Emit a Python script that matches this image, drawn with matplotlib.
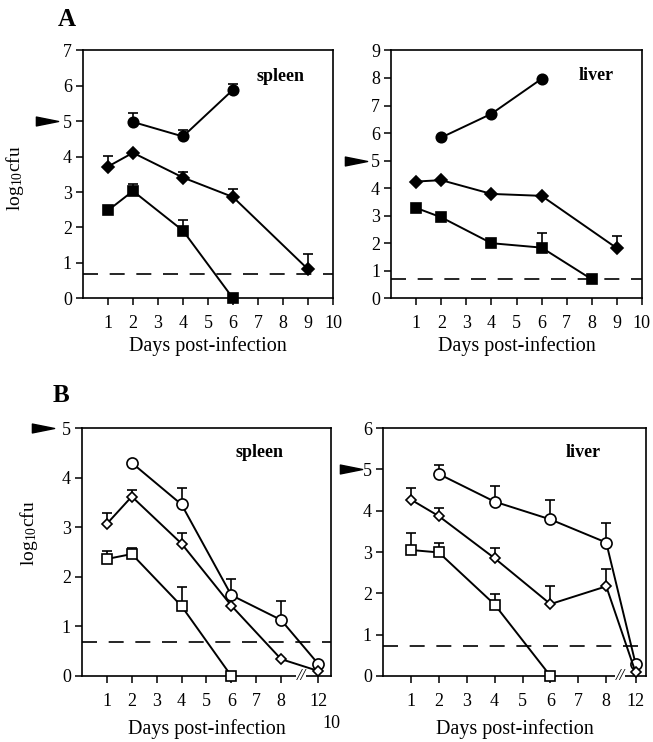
import numpy as np
import matplotlib
matplotlib.use("Agg")
import matplotlib.pyplot as plt
from matplotlib.path import Path
from matplotlib.transforms import blended_transform_factory

plt.rcParams['font.family'] = ['Liberation Serif', 'DejaVu Serif']
plt.rcParams['mathtext.fontset'] = 'custom'
plt.rcParams['mathtext.rm'] = 'Liberation Serif'
plt.rcParams['mathtext.it'] = 'Liberation Serif:italic'

# ---- data (log10 cfu, mean and upper error) ----
# A, spleen
a_spl_circ_days = [2, 4, 6]
a_spl_circ = [4.98, 4.57, 5.89]
a_spl_circ_err = [0.25, 0.17, 0.17]
a_spl_diam_days = [1, 2, 4, 6, 9]
a_spl_diam = [3.72, 4.11, 3.41, 2.86, 0.82]
a_spl_diam_err = [0.29, 0, 0.15, 0.23, 0.43]
a_spl_sq_days = [1, 2, 4, 6]
a_spl_sq = [2.48, 3.03, 1.91, 0.0]
a_spl_sq_err = [0, 0.19, 0.29, 0]
a_spl_limit = 0.69

# A, liver
a_liv_circ_days = [2, 4, 6]
a_liv_circ = [5.84, 6.70, 7.97]
a_liv_circ_err = [0, 0, 0]
a_liv_diam_days = [1, 2, 4, 6, 9]
a_liv_diam = [4.24, 4.29, 3.79, 3.72, 1.82]
a_liv_diam_err = [0, 0, 0, 0, 0.44]
a_liv_sq_days = [1, 2, 4, 6, 8]
a_liv_sq = [3.28, 2.94, 2.00, 1.84, 0.69]
a_liv_sq_err = [0, 0, 0, 0.52, 0]
a_liv_limit = 0.71

# B, spleen
b_spl_circ_days = [2, 4, 6, 8, 12]
b_spl_circ = [4.30, 3.46, 1.63, 1.13, 0.24]
b_spl_circ_err = [0, 0.33, 0.32, 0.38, 0]
b_spl_diam_days = [1, 2, 4, 6, 8, 12]
b_spl_diam = [3.07, 3.62, 2.67, 1.42, 0.34, 0.10]
b_spl_diam_err = [0.21, 0.14, 0.22, 0, 0, 0]
b_spl_sq_days = [1, 2, 4, 6]
b_spl_sq = [2.36, 2.46, 1.41, 0.0]
b_spl_sq_err = [0.16, 0.13, 0.39, 0]
b_spl_limit = 0.68

# B, liver
b_liv_circ_days = [2, 4, 6, 8, 12]
b_liv_circ = [4.89, 4.22, 3.79, 3.23, 0.30]
b_liv_circ_err = [0.21, 0.37, 0.47, 0.47, 0]
b_liv_diam_days = [1, 2, 4, 6, 8, 12]
b_liv_diam = [4.27, 3.87, 2.85, 1.74, 2.17, 0.09]
b_liv_diam_err = [0.28, 0.20, 0.26, 0.43, 0.41, 0]
b_liv_sq_days = [1, 2, 4, 6]
b_liv_sq = [3.05, 2.99, 1.73, 0.0]
b_liv_sq_err = [0.42, 0.24, 0.26, 0]
b_liv_limit = 0.73

a_xticks = [1, 2, 3, 4, 5, 6, 7, 8, 9, 10]
b_xticks = [1, 2, 3, 4, 5, 6, 7, 8, 12]

# elongated arrowhead marker
arrow_marker = Path([(-1, -0.4), (-1, 0.4), (1, 0), (-1, -0.4)],
                    [Path.MOVETO, Path.LINETO, Path.LINETO, Path.CLOSEPOLY])

fig = plt.figure(figsize=(6.53, 7.42), dpi=100)


def make_axes(rect, ymax, xmax, arrow_off):
    ax = fig.add_axes(rect)
    ax.set_ylim(0, ymax)
    ax.set_xlim(0, xmax)
    ax.set_yticks(range(0, ymax + 1))
    for s in ax.spines.values():
        s.set_linewidth(1.2)
    ax.tick_params(direction='out', length=5, width=1.1, labelsize=13)
    ax.tick_params(axis='x', pad=7)
    ax.tick_params(axis='y', pad=3)
    # arrowhead at y = 5
    tr = blended_transform_factory(ax.transAxes, ax.transData)
    ax.plot([arrow_off], [5], marker=arrow_marker, markersize=16, color='black',
            transform=tr, clip_on=False, linestyle='none')
    return ax


def draw_series(ax, days, vals, errs, marker, filled, xmap, ms):
    x = [xmap(d) for d in days]
    face = 'black' if filled else 'white'
    ex = [xi for xi, e in zip(x, errs) if e > 0]
    ey = [v for v, e in zip(vals, errs) if e > 0]
    ee = [e for e in errs if e > 0]
    if ex:
        ax.errorbar(ex, ey, yerr=[np.zeros(len(ee)), ee], fmt='none', ecolor='black',
                    elinewidth=1.2, capsize=3.6, capthick=1.2, zorder=2, clip_on=False)
    ax.plot(x, vals, color='black', linewidth=1.4, marker=marker, markersize=ms,
            markerfacecolor=face, markeredgecolor='black', markeredgewidth=1.2,
            zorder=3, clip_on=False)


def dashed(ax, y):
    ax.axhline(y, color='black', linewidth=1.2, dashes=(9, 7), zorder=1)


# ---------------- Panel A ----------------
ax1 = make_axes([0.127, 0.598, 0.383, 0.334], 7, 10, -0.145)
ax2 = make_axes([0.599, 0.598, 0.384, 0.334], 9, 10, -0.14)
for ax in (ax1, ax2):
    ax.set_xticks(a_xticks)

ident = lambda d: d
draw_series(ax1, a_spl_circ_days, a_spl_circ, a_spl_circ_err, 'o', True, ident, 7.5)
draw_series(ax1, a_spl_diam_days, a_spl_diam, a_spl_diam_err, 'D', True, ident, 6)
draw_series(ax1, a_spl_sq_days, a_spl_sq, a_spl_sq_err, 's', True, ident, 7.5)
dashed(ax1, a_spl_limit)

draw_series(ax2, a_liv_circ_days, a_liv_circ, a_liv_circ_err, 'o', True, ident, 7.5)
draw_series(ax2, a_liv_diam_days, a_liv_diam, a_liv_diam_err, 'D', True, ident, 6)
draw_series(ax2, a_liv_sq_days, a_liv_sq, a_liv_sq_err, 's', True, ident, 7.5)
dashed(ax2, a_liv_limit)

ax1.text(0.79, 0.895, 'spleen', transform=ax1.transAxes, ha='center', va='center',
         fontsize=13, fontweight='bold')
ax2.text(0.817, 0.90, 'liver', transform=ax2.transAxes, ha='center', va='center',
         fontsize=13, fontweight='bold')

# ---------------- Panel B ----------------
ax3 = make_axes([0.1256, 0.089, 0.381, 0.334], 5, 10, -0.155)
ax4 = make_axes([0.5865, 0.089, 0.403, 0.334], 6, 9.43, -0.12)


def bmap(brk):
    return lambda d: d if d <= 8 else brk


map3 = bmap(9.5)
map4 = bmap(9.05)
ax3.set_xticks([map3(d) for d in b_xticks])
ax3.set_xticklabels([str(d) for d in b_xticks])
ax4.set_xticks([map4(d) for d in b_xticks])
ax4.set_xticklabels([str(d) for d in b_xticks])

draw_series(ax3, b_spl_circ_days, b_spl_circ, b_spl_circ_err, 'o', False, map3, 8)
draw_series(ax3, b_spl_diam_days, b_spl_diam, b_spl_diam_err, 'D', False, map3, 5.5)
draw_series(ax3, b_spl_sq_days, b_spl_sq, b_spl_sq_err, 's', False, map3, 7.5)
dashed(ax3, b_spl_limit)

draw_series(ax4, b_liv_circ_days, b_liv_circ, b_liv_circ_err, 'o', False, map4, 8)
draw_series(ax4, b_liv_diam_days, b_liv_diam, b_liv_diam_err, 'D', False, map4, 5.5)
draw_series(ax4, b_liv_sq_days, b_liv_sq, b_liv_sq_err, 's', False, map4, 7.5)
dashed(ax4, b_liv_limit)

# axis break marks
for ax, bx in ((ax3, 8.8), (ax4, 8.5)):
    tr = blended_transform_factory(ax.transData, ax.transAxes)
    ax.text(bx, 0.0, '//', transform=tr, ha='center', va='center', fontsize=12,
            fontstyle='italic', clip_on=False,
            bbox=dict(facecolor='white', edgecolor='none', pad=0.2))

ax3.text(0.715, 0.903, 'spleen', transform=ax3.transAxes, ha='center', va='center',
         fontsize=13, fontweight='bold')
ax4.text(0.76, 0.903, 'liver', transform=ax4.transAxes, ha='center', va='center',
         fontsize=13, fontweight='bold')

# ---------------- labels ----------------
for ax in (ax1, ax2):
    ax.set_xlabel('Days post-infection', fontsize=14.5, labelpad=3)
for ax in (ax3, ax4):
    ax.set_xlabel('Days post-infection', fontsize=14.5, labelpad=7)

fig.text(15 / 653, 1 - 178 / 742, 'log$_{10}$cfu', rotation=90, ha='center', va='center',
         fontsize=14)
fig.text(29 / 653, 1 - 533 / 742, 'log$_{10}$cfu', rotation=90, ha='center', va='center',
         fontsize=14)

fig.text(67 / 653, 1 - 20 / 742, 'A', ha='center', va='center', fontsize=18,
         fontweight='bold')
fig.text(61 / 653, 1 - 396 / 742, 'B', ha='center', va='center', fontsize=18,
         fontweight='bold')
fig.text(331 / 653, 1 - 723 / 742, '10', ha='center', va='center', fontsize=13)

fig.savefig('out.png', dpi=100)
